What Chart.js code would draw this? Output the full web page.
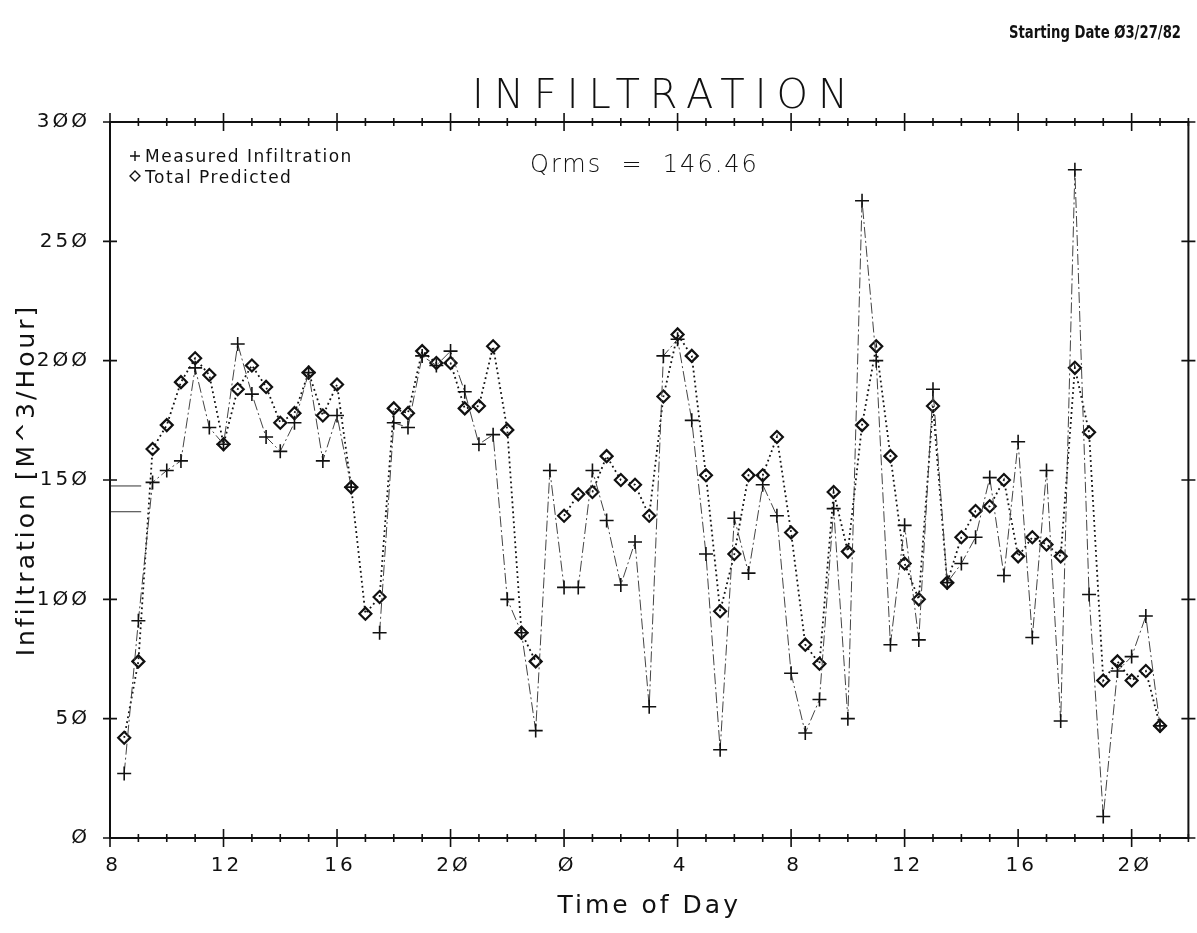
<!DOCTYPE html>
<html lang="en">
<head>
    <meta charset="UTF-8">
    <title>Infiltration</title>
    <script src="https://cdn.jsdelivr.net/npm/chart.js@4.4.1/dist/chart.umd.min.js"></script>
    <style>
        body { margin: 0; background: #fff; }
    </style>
</head>
<body>
    <canvas id="chart" width="1197" height="933"></canvas>

    <script>
        // time of day in hours from the start date (24+ = next day)
        let hours = [8.5, 9, 9.5, 10, 10.5, 11, 11.5, 12, 12.5, 13, 13.5, 14, 14.5, 15, 15.5, 16, 16.5, 17, 17.5, 18,
            18.5, 19, 19.5, 20, 20.5, 21, 21.5, 22, 22.5, 23, 23.5, 24, 24.5, 25, 25.5, 26, 26.5, 27, 27.5, 28,
            28.5, 29, 29.5, 30, 30.5, 31, 31.5, 32, 32.5, 33, 33.5, 34, 34.5, 35, 35.5, 36, 36.5, 37, 37.5, 38,
            38.5, 39, 39.5, 40, 40.5, 41, 41.5, 42, 42.5, 43, 43.5, 44, 44.5, 45];

        let measured = [27, 91, 149, 154, 158, 197, 172, 165, 207, 186, 168, 162, 174, 195, 158, 177, 147, null, 86, 174,
            172, 202, 198, 204, 187, 165, 169, 100, 86, 45, 154, 105, 105, 154, 133, 106, 124, 55, 202, 209,
            175, 119, 37, 134, 111, 148, 135, 69, 44, 58, 138, 50, 267, 200, 81, 131, 83, 188, 107, 115,
            126, 151, 110, 166, 84, 154, 49, 280, 102, 9, 70, 76, 93, 47];

        let predicted = [42, 74, 163, 173, 191, 201, 194, 165, 188, 198, 189, 174, 178, 195, 177, 190, 147, 94, 101, 180,
            178, 204, 199, 199, 180, 181, 206, 171, 86, 74, null, 135, 144, 145, 160, 150, 148, 135, 185, 211,
            202, 152, 95, 119, 152, 152, 168, 128, 81, 73, 145, 120, 173, 206, 160, 115, 100, 181, 107, 126,
            137, 139, 150, 118, 126, 123, 118, 197, 170, 66, 74, 66, 70, 47];

        // the two short marks at the left edge
        let startHours = [8, 9.1];
        let startLevelA = [147.5, 147.5];
        let startLevelB = [136.7, 136.7];

        let yTicks = [0, 50, 100, 150, 200, 250, 300];
        let qrms = "146.46";

        function slashZero(s){
            return String(s).replace(/0/g, "\u00D8");
        }

        function pairs(xs, ys){
            return xs.map((x, i) => ({x: x, y: ys[i]}));
        }

        const FONT = "'DejaVu Sans', sans-serif";

        const frame = {
            id: "frame",
            beforeDraw(chart){
                // plotter lettering is wider than the screen font
                chart.ctx.letterSpacing = "3px";
            },
            afterDraw(chart){
                const ctx = chart.ctx;
                const a = chart.chartArea;
                const xs = chart.scales.x;
                const ys = chart.scales.y;
                ctx.letterSpacing = "0px";
                ctx.save();
                ctx.strokeStyle = "#111";
                ctx.lineWidth = 2;
                ctx.strokeRect(a.left, a.top, a.right - a.left, a.bottom - a.top);

                ctx.lineWidth = 1.6;
                for(let h = xs.min; h <= xs.max; h++){
                    let px = xs.getPixelForValue(h);
                    let len = (h % 4 === 0) ? 9 : 4;
                    ctx.beginPath();
                    ctx.moveTo(px, a.bottom - len); ctx.lineTo(px, a.bottom + len);
                    ctx.moveTo(px, a.top - len); ctx.lineTo(px, a.top + len);
                    ctx.stroke();
                }
                yTicks.forEach(v => {
                    let py = ys.getPixelForValue(v);
                    ctx.beginPath();
                    ctx.moveTo(a.left - 7, py); ctx.lineTo(a.left + 7, py);
                    ctx.moveTo(a.right - 7, py); ctx.lineTo(a.right + 7, py);
                    ctx.stroke();
                });

                ctx.fillStyle = "#111";
                ctx.textBaseline = "alphabetic";

                // header
                ctx.textAlign = "right";
                ctx.font = "600 17px " + FONT;
                ctx.fillText("Starting Date " + slashZero("03/27/82"), 1181, 38, 172);

                ctx.textAlign = "center";
                ctx.font = "200 40px " + FONT;
                ctx.letterSpacing = "10px";
                ctx.fillText("INFILTRATION", 665, 108, 405);
                ctx.letterSpacing = "0px";

                // Qrms
                ctx.textAlign = "left";
                ctx.font = "300 24px " + FONT;
                ctx.letterSpacing = "2px";
                ctx.fillText("Qrms  =  " + qrms, 530, 172, 234);
                ctx.letterSpacing = "0px";

                // legend
                ctx.font = "17px " + FONT;
                ctx.letterSpacing = "1.5px";
                ctx.fillText("Measured Infiltration", 145, 162, 212);
                ctx.fillText("Total Predicted", 145, 183, 156);
                ctx.letterSpacing = "0px";
                ctx.lineWidth = 1.4;
                ctx.beginPath();
                ctx.moveTo(130, 156); ctx.lineTo(140, 156);
                ctx.moveTo(135, 151); ctx.lineTo(135, 161);
                ctx.stroke();
                ctx.beginPath();
                ctx.moveTo(135, 171); ctx.lineTo(140, 176); ctx.lineTo(135, 181); ctx.lineTo(130, 176); ctx.closePath();
                ctx.stroke();
                ctx.restore();
            }
        };

        new Chart(document.getElementById("chart"), {
            type: "line",
            data: {
                datasets: [
                    {
                        label: "Measured Infiltration",
                        data: pairs(hours, measured),
                        borderColor: "#444",
                        borderWidth: 1,
                        borderDash: [11, 3, 2, 3],
                        pointStyle: "cross",
                        pointRadius: 7,
                        pointBorderWidth: 1.6,
                        pointBorderColor: "#111",
                        spanGaps: false,
                        tension: 0
                    },
                    {
                        label: "Total Predicted",
                        data: pairs(hours, predicted),
                        borderColor: "#111",
                        borderWidth: 1.8,
                        borderDash: [1.8, 3.2],
                        pointStyle: "rectRot",
                        pointRadius: 6,
                        pointBorderWidth: 2.2,
                        pointBorderColor: "#111",
                        pointBackgroundColor: "rgba(255,255,255,0)",
                        spanGaps: false,
                        tension: 0
                    },
                    {
                        label: "start A",
                        data: pairs(startHours, startLevelA),
                        borderColor: "#333",
                        borderWidth: 1,
                        pointRadius: 0
                    },
                    {
                        label: "start B",
                        data: pairs(startHours, startLevelB),
                        borderColor: "#333",
                        borderWidth: 1,
                        pointRadius: 0
                    }
                ]
            },
            options: {
                responsive: false,
                animation: false,
                layout: { padding: { top: 122, right: 8, left: 0, bottom: 0 } },
                plugins: {
                    legend: { display: false },
                    tooltip: { enabled: false }
                },
                scales: {
                    x: {
                        type: "linear",
                        min: 8,
                        max: 46,
                        afterFit: s => { s.height = 95; },
                        grid: { display: false },
                        border: { display: false },
                        ticks: {
                            stepSize: 4,
                            includeBounds: false,
                            maxRotation: 0,
                            autoSkip: false,
                            padding: 8,
                            labelOffset: 3,
                            color: "#111",
                            font: { family: FONT, size: 20 },
                            callback: v => slashZero(v % 24)
                        },
                        title: {
                            display: true,
                            text: "Time of Day",
                            color: "#111",
                            font: { family: FONT, size: 25 },
                            padding: { top: 0, bottom: 12 }
                        }
                    },
                    y: {
                        min: 0,
                        max: 300,
                        afterFit: s => { s.width = 110; },
                        grid: { display: false },
                        border: { display: false },
                        ticks: {
                            stepSize: 50,
                            padding: 12,
                            color: "#111",
                            font: { family: FONT, size: 20 },
                            callback: v => slashZero(v)
                        },
                        title: {
                            display: true,
                            text: "Infiltration [M^3/Hour]",
                            color: "#111",
                            font: { family: FONT, size: 25 },
                            padding: { top: 12, bottom: 0 }
                        }
                    }
                }
            },
            plugins: [frame]
        });
    </script>
</body>
</html>
